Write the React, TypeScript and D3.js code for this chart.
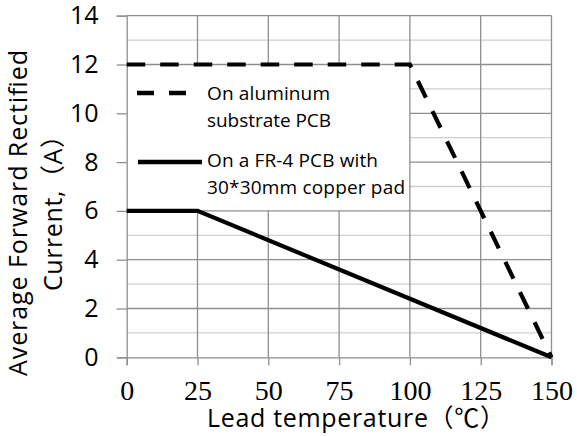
import React, { useEffect, useRef } from 'react';
import * as d3 from 'd3';

// chart values
const xTicks = [0, 25, 50, 75, 100, 125, 150];
const yTicks = [0, 2, 4, 6, 8, 10, 12, 14];
const yMinor = [1, 3, 5, 7, 9, 11, 13];

const alumTemp = [0, 100, 150];
const alumCurrent = [12, 12, 0];
const fr4Temp = [0, 25, 150];
const fr4Current = [6, 6, 0];

const alumLabel = ['On aluminum', 'substrate PCB'];
const fr4Label = ['On a FR-4 PCB with', '30*30mm copper pad'];

const sans = "'Open Sans', 'Noto Sans CJK SC', sans-serif";
const serif = "'Liberation Serif', serif";
const gridColor = '#8e8e8e';

const App: React.FC = () => {
    const svgRef = useRef<SVGSVGElement | null>(null);

    useEffect(() => {
        const svg = d3.select(svgRef.current);
        svg.selectAll('*').remove();

        const x = d3.scaleLinear().domain([0, 150]).range([126.7, 551.5]);
        const y = d3.scaleLinear().domain([0, 14]).range([357.3, 15.7]);

        // minor horizontal grid
        svg.append('g').selectAll('line')
            .data(yMinor)
            .join('line')
            .attr('x1', x(0)).attr('x2', x(150))
            .attr('y1', d => y(d)).attr('y2', d => y(d))
            .attr('stroke', '#cfcfcf').attr('stroke-width', 1.3);

        // legend box hides the grid behind it
        svg.append('rect')
            .attr('x', x(0) + 1)
            .attr('y', y(12) + 1.5)
            .attr('width', x(100) - x(0) - 2)
            .attr('height', y(6) - y(12) - 3)
            .attr('fill', '#fff');

        const major = svg.append('g')
            .attr('stroke', gridColor).attr('stroke-width', 1.3);
        major.selectAll('line.h')
            .data(yTicks.filter(d => d > 0 && !(d > 6 && d < 12)))
            .join('line')
            .attr('class', 'h')
            .attr('x1', x(0)).attr('x2', x(150))
            .attr('y1', d => y(d)).attr('y2', d => y(d));
        major.selectAll('line.hr')
            .data(yTicks.filter(d => d > 6 && d < 12))
            .join('line')
            .attr('class', 'hr')
            .attr('x1', x(100)).attr('x2', x(150))
            .attr('y1', d => y(d)).attr('y2', d => y(d));
        major.selectAll('line.v')
            .data(xTicks.filter(d => d > 0))
            .join('line')
            .attr('class', 'v')
            .attr('x1', d => x(d)).attr('x2', d => x(d))
            .attr('y1', d => (d < 100 ? y(0) : y(14)))
            .attr('y2', d => (d < 100 ? y(6) : y(0)));
        major.selectAll('line.vt')
            .data(xTicks.filter(d => d > 0 && d < 100))
            .join('line')
            .attr('class', 'vt')
            .attr('x1', d => x(d)).attr('x2', d => x(d))
            .attr('y1', y(14)).attr('y2', y(12));

        // axes
        const yAxis = svg.append('g')
            .attr('transform', `translate(${x(0)},0)`)
            .call(d3.axisLeft(y).tickValues(yTicks).tickSize(10).tickFormat(d3.format('d')));
        yAxis.select('.domain').attr('stroke', gridColor).attr('stroke-width', 1.3);
        yAxis.selectAll('.tick line').attr('stroke', gridColor).attr('stroke-width', 1.3);
        yAxis.selectAll('.tick text')
            .attr('x', 98.5 - x(0))
            .attr('font-family', sans).attr('font-size', 25).attr('fill', '#000');

        const xAxis = svg.append('g')
            .attr('transform', `translate(0,${y(0)})`)
            .call(d3.axisBottom(x).tickValues(xTicks).tickSize(8).tickFormat(d3.format('d')));
        xAxis.select('.domain').attr('stroke', gridColor).attr('stroke-width', 1.3);
        xAxis.selectAll('.tick line').attr('stroke', gridColor).attr('stroke-width', 1.3);
        xAxis.selectAll('.tick text')
            .attr('y', 400 - y(0)).attr('dy', null)
            .attr('font-family', serif).attr('font-size', 28).attr('fill', '#000');

        // series
        const line = d3.line<[number, number]>().x(d => x(d[0])).y(d => y(d[1]));
        svg.append('path')
            .attr('d', line(alumTemp.map((t, i) => [t, alumCurrent[i]] as [number, number])))
            .attr('fill', 'none').attr('stroke', '#000').attr('stroke-width', 4.2)
            .attr('stroke-dasharray', '18.5,15');
        svg.append('path')
            .attr('d', line(fr4Temp.map((t, i) => [t, fr4Current[i]] as [number, number])))
            .attr('fill', 'none').attr('stroke', '#000').attr('stroke-width', 4.2);

        // legend
        const lg = svg.append('g').attr('font-family', sans).attr('font-size', 19);
        lg.append('line')
            .attr('x1', 137).attr('x2', 188).attr('y1', 93).attr('y2', 93)
            .attr('stroke', '#000').attr('stroke-width', 4.5).attr('stroke-dasharray', '17,15');
        lg.append('line')
            .attr('x1', 138).attr('x2', 202).attr('y1', 162).attr('y2', 162)
            .attr('stroke', '#000').attr('stroke-width', 4.5);
        const alumLen = [123, 124];
        const fr4Len = [171, 198];
        lg.selectAll('text.a')
            .data(alumLabel)
            .join('text')
            .attr('class', 'a')
            .attr('x', 207).attr('y', (_, i) => 100 + i * 27)
            .attr('textLength', (_, i) => alumLen[i]).attr('lengthAdjust', 'spacing')
            .text(d => d);
        lg.selectAll('text.b')
            .data(fr4Label)
            .join('text')
            .attr('class', 'b')
            .attr('x', 207).attr('y', (_, i) => 167 + i * 27)
            .attr('textLength', (_, i) => fr4Len[i]).attr('lengthAdjust', 'spacing')
            .text(d => d);

        // axis titles
        svg.append('text')
            .attr('x', 207).attr('y', 427)
            .attr('font-family', sans).attr('font-size', 25)
            .attr('textLength', 298).attr('lengthAdjust', 'spacing')
            .text('Lead temperature（℃）');
        const yt = svg.append('g').attr('font-family', sans).attr('font-size', 25);
        yt.append('text')
            .attr('transform', 'translate(26.5,376) rotate(-90)')
            .attr('textLength', 326).attr('lengthAdjust', 'spacing')
            .text('Average Forward Rectified');
        yt.append('text')
            .attr('transform', 'translate(62,291) rotate(-90)')
            .attr('textLength', 168).attr('lengthAdjust', 'spacing')
            .text('Current,（A）');
    }, []);

    return (
        <svg
            ref={svgRef}
            width={577}
            height={436}
            style={{ position: 'absolute', left: 0, top: 0, background: '#fff' }}
        />
    );
};

export default App;
